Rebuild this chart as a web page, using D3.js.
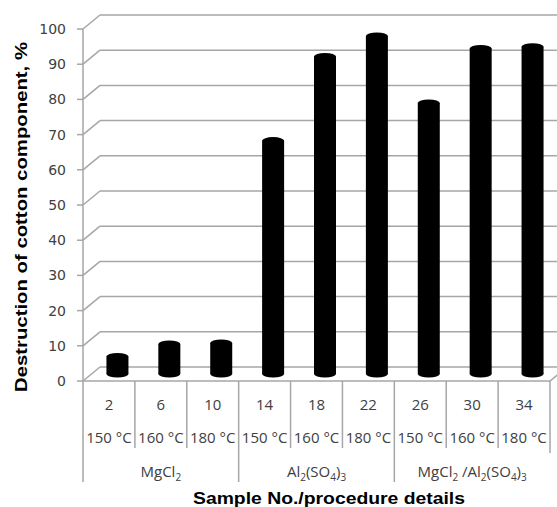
<!DOCTYPE html>
<html>
<head>
<meta charset="utf-8">
<script src="https://cdn.jsdelivr.net/npm/d3@7"></script>
<style>
  body { margin: 0; background: #fff; }
  svg { display: block; }
</style>
</head>
<body>
<svg width="557" height="507"></svg>
<script>
// values
samples = ["2", "6", "10", "14", "18", "22", "26", "30", "34"];
temps = ["150 °C", "160 °C", "180 °C", "150 °C", "160 °C", "180 °C", "150 °C", "160 °C", "180 °C"];
values = [5, 8.5, 8.8, 66.3, 90.2, 96, 77, 92.5, 93];
groups = [
  {parts: [["MgCl"], ["2", "sub"]], from: 0, to: 2},
  {parts: [["Al"], ["2", "sub"], ["(SO"], ["4", "sub"], [")"], ["3", "sub"]], from: 3, to: 5},
  {parts: [["MgCl"], ["2", "sub"], [" /Al"], ["2", "sub"], ["(SO"], ["4", "sub"], [")"], ["3", "sub"]], from: 6, to: 8}
];
yTicks = [0, 10, 20, 30, 40, 50, 60, 70, 80, 90, 100];

const svg = d3.select("svg");
const dx = 17, dy = -14;  // depth offset of the back wall
const grid = "#a6a6a6";

const x = d3.scaleBand().domain(samples).range([83, 550]);
const y = d3.scaleLinear().domain([0, 100]).range([381, 29]);

// back wall gridlines
svg.selectAll(".grid").data(yTicks).enter().append("line")
    .attr("x1", 83 + dx).attr("x2", 600)
    .attr("y1", d => y(d) + dy).attr("y2", d => y(d) + dy)
    .attr("stroke", grid).attr("stroke-width", 1.5);

// side wall diagonals
svg.selectAll(".diag").data(yTicks).enter().append("line")
    .attr("x1", 83).attr("x2", 83 + dx)
    .attr("y1", d => y(d)).attr("y2", d => y(d) + dy)
    .attr("stroke", grid).attr("stroke-width", 1.5);

// floor
svg.append("path")
    .attr("d", `M83,${y(0)}H550L${550 + dx},${y(0) + dy}`)
    .attr("fill", "none").attr("stroke", grid).attr("stroke-width", 1.5);

// value axis
svg.append("line")
    .attr("x1", 83).attr("x2", 83).attr("y1", y(0)).attr("y2", y(100))
    .attr("stroke", grid).attr("stroke-width", 1.5);
svg.selectAll(".tick").data(yTicks).enter().append("line")
    .attr("x1", 77).attr("x2", 83)
    .attr("y1", d => y(d)).attr("y2", d => y(d))
    .attr("stroke", grid).attr("stroke-width", 1.5);
svg.selectAll(".ylab").data(yTicks).enter().append("text")
    .attr("x", 66).attr("y", d => y(d)).attr("dy", "0.36em")
    .attr("text-anchor", "end")
    .style("font", "14px 'DejaVu Sans'").attr("fill", "#404040")
    .text(d => d);

// cylinders
const bw = 22, ry = 3.5;
const mid = v => y(v) + dy / 2;
const cx = d => x(d) + x.bandwidth() / 2 + dx / 2;
const bars = svg.selectAll(".bar").data(samples).enter().append("g");
bars.append("rect")
    .attr("x", d => cx(d) - bw / 2).attr("width", bw)
    .attr("y", (d, i) => mid(values[i])).attr("height", (d, i) => mid(0) - mid(values[i]))
    .attr("fill", "#000");
bars.append("ellipse")
    .attr("cx", cx).attr("cy", mid(0)).attr("rx", bw / 2).attr("ry", ry)
    .attr("fill", "#000");
bars.append("ellipse")
    .attr("cx", cx).attr("cy", (d, i) => mid(values[i])).attr("rx", bw / 2).attr("ry", ry)
    .attr("fill", "#000");

// category axis separators
const edges = d3.range(samples.length + 1);
svg.selectAll(".sep").data(edges).enter().append("line")
    .attr("x1", i => 83 + i * x.step()).attr("x2", i => 83 + i * x.step())
    .attr("y1", y(0))
    .attr("y2", i => i === samples.length ? 453 : (i % 3 === 0 ? 482 : 448))
    .attr("stroke", grid).attr("stroke-width", 1.5);

const catFont = "15px 'Open Sans'";
svg.selectAll(".num").data(samples).enter().append("text")
    .attr("x", d => x(d) + x.bandwidth() / 2).attr("y", 410)
    .attr("text-anchor", "middle").style("font", catFont).attr("fill", "#404040")
    .text(d => d);
svg.selectAll(".temp").data(samples).enter().append("text")
    .attr("x", d => x(d) + x.bandwidth() / 2).attr("y", 443)
    .attr("text-anchor", "middle").style("font", catFont).attr("fill", "#404040")
    .text((d, i) => temps[i]);

const gl = svg.selectAll(".grp").data(groups).enter().append("text")
    .attr("x", g => (x(samples[g.from]) + x(samples[g.to]) + x.bandwidth()) / 2)
    .attr("y", 477)
    .attr("text-anchor", "middle").style("font", catFont).attr("fill", "#404040");
gl.selectAll("tspan").data(g => g.parts).enter().append("tspan")
    .attr("dy", (p, i, n) => {
      const prev = i > 0 ? n[i - 1].__data__[1] : null;
      if (p[1] === "sub" && prev !== "sub") return 4;
      if (p[1] !== "sub" && prev === "sub") return -4;
      return 0;
    })
    .style("font-size", p => p[1] === "sub" ? "10px" : null)
    .text(p => p[0]);

// axis titles
svg.append("text")
    .attr("x", 329).attr("y", 504).attr("text-anchor", "middle")
    .attr("textLength", 272).attr("lengthAdjust", "spacingAndGlyphs")
    .style("font", "bold 16px 'Liberation Sans'").attr("fill", "#000")
    .text("Sample No./procedure details");
svg.append("text")
    .attr("transform", "translate(27,217) rotate(-90)")
    .attr("text-anchor", "middle")
    .attr("textLength", 350).attr("lengthAdjust", "spacingAndGlyphs")
    .style("font", "bold 17px 'Liberation Sans'").attr("fill", "#000")
    .text("Destruction of cotton component, %");
</script>
</body>
</html>
